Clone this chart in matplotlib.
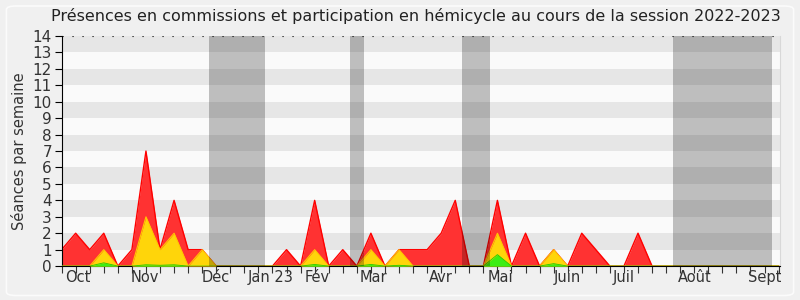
import numpy as np
import matplotlib
matplotlib.use('Agg')
import matplotlib.pyplot as plt
from matplotlib.patches import FancyBboxPatch

# weekly values, session 2022-2023 (52 weeks)
total = [1, 2, 1, 2, 0, 1, 7, 1, 4, 1, 1, 0, 0, 0, 0, 0, 1, 0, 4, 0,
         1, 0, 2, 0, 1, 1, 1, 2, 4, 0, 0, 4, 0, 2, 0, 1, 0, 2, 1, 0,
         0, 2, 0, 0, 0, 0, 0, 0, 0, 0, 0, 0]
commission = [0, 0, 0, 1, 0, 0, 3, 1, 2, 0, 1, 0, 0, 0, 0, 0, 0, 0, 1, 0,
              0, 0, 1, 0, 1, 0, 0, 0, 0, 0, 0, 2, 0, 0, 0, 1, 0, 0, 0, 0,
              0, 0, 0, 0, 0, 0, 0, 0, 0, 0, 0, 0]
hemicycle = [0, 0, 0, 0.2, 0, 0, 0.08, 0.05, 0.08, 0, 0, 0, 0, 0, 0, 0, 0, 0, 0.1, 0,
             0, 0, 0.1, 0, 0.05, 0, 0, 0, 0, 0, 0, 0.7, 0, 0, 0, 0.15, 0, 0, 0, 0,
             0, 0, 0, 0, 0, 0, 0, 0, 0, 0, 0, 0]
# parliamentary holidays (start week, end week)
vacances = [(10.5, 14.5), (20.5, 21.5), (28.5, 30.5), (43.5, 50.5)]
months = ['Oct', 'Nov', 'Déc', 'Jan 23', 'Fév', 'Mar', 'Avr', 'Mai', 'Juin', 'Juil', 'Août', 'Sept']
month_pos = [1.15, 5.95, 10.95, 14.9, 18.15, 22.2, 27.0, 31.2, 36.0, 40.0, 45.05, 50.0]

weeks = np.arange(len(total))

fig = plt.figure(figsize=(8, 3), dpi=100, facecolor='#f0f0f0')
fig.patches.append(FancyBboxPatch((0.008, 0.015), 0.984, 0.965, boxstyle='round,pad=0,rounding_size=0.012',
                                  transform=fig.transFigure, facecolor='#f0f0f0', edgecolor='#fbfbfb',
                                  linewidth=1.2, zorder=-10))
ax = fig.add_axes([0.077, 0.113, 0.898, 0.767])
ax.set_facecolor('#fafafa')

for k in range(1, 14, 2):
    ax.axhspan(k, k + 1, color='#e6e6e6', lw=0, zorder=0)

ax.fill_between(weeks, 0, total, color='#ff3232', lw=0, zorder=2)
ax.plot(weeks, total, color='#ff0000', lw=1, zorder=2)
ax.fill_between(weeks, 0, commission, color='#ffd50a', lw=0, zorder=3)
ax.plot(weeks, commission, color='#ffc800', lw=0.8, zorder=3)
ax.fill_between(weeks, 0, hemicycle, color='#3cee14', lw=0, zorder=4)
ax.plot(weeks, hemicycle, color='#22cc00', lw=0.6, zorder=4)

for a, b in vacances:
    ax.axvspan(a, b, color='black', alpha=0.24, lw=0, zorder=5)

ax.axhline(14, color='black', lw=0.8, ls=(0, (1, 8)), zorder=6)

ax.set_xlim(0, 51.1)
ax.set_ylim(0, 14)
ax.set_yticks(range(15))
ax.xaxis.remove_overlapping_locs = False
ax.set_xticks(weeks)
ax.set_xticklabels([])
ax.set_xticks(month_pos, minor=True)
ax.set_xticklabels(months, minor=True)
ax.tick_params(axis='x', which='major', length=5, color='#333333', direction='out')
ax.tick_params(axis='x', which='minor', length=0, pad=3, labelsize=10.5, labelcolor='#333333')
ax.tick_params(axis='y', length=5, pad=2, labelsize=11, labelcolor='#333333')

for s in ['top']:
    ax.spines[s].set_visible(False)
ax.spines['right'].set_color('#d8d8d8')
ax.spines['left'].set_color('black')
ax.spines['bottom'].set_color('black')

ax.set_ylabel('Séances par semaine', fontsize=10.5, color='#333333', labelpad=4)
fig.text(0.52, 0.945, 'Présences en commissions et participation en hémicycle au cours de la session 2022-2023',
         ha='center', va='center', fontsize=11.5, color='#222222')

fig.savefig('out.png', dpi=100, facecolor=fig.get_facecolor())
